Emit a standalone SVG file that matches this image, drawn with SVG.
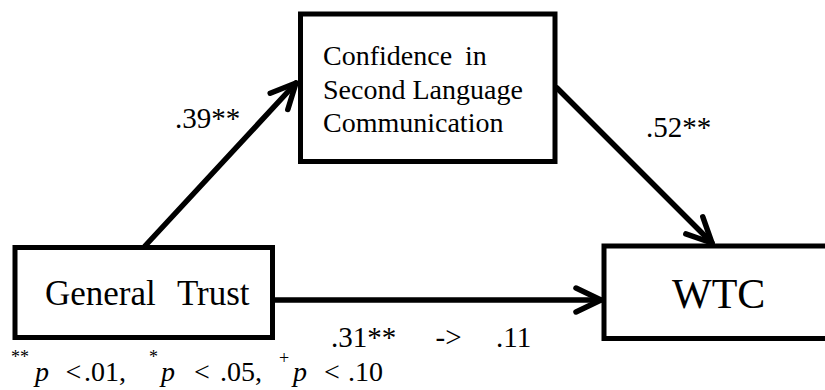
<svg xmlns="http://www.w3.org/2000/svg" width="825" height="390" viewBox="0 0 825 390">
  <style>
    .box { fill: #ffffff; stroke: #000000; stroke-width: 5; }
    .edge { fill: none; stroke: #000000; stroke-width: 5.5; stroke-linecap: round; }
    text { font-family: "Liberation Serif", "Times New Roman", serif; fill: #000000; }
    .node { font-size: 28px; }
    .lbl { font-size: 29px; }
    .fn { font-size: 28px; }
    .sup { font-size: 18px; }
    .it { font-style: italic; }
  </style>
  <defs>
    <marker id="arrow" markerUnits="userSpaceOnUse" viewBox="-32 -16 36 32" markerWidth="36" markerHeight="32" refX="0" refY="0" orient="auto">
      <path d="M -25,-12 L 0,0 L -25,12" fill="none" stroke="#000000" stroke-width="5.5" stroke-linecap="round" stroke-linejoin="round"/>
    </marker>
  </defs>
  <rect width="825" height="390" fill="#ffffff"/>

  <g id="connectors">
    <line class="edge" x1="145" y1="246" x2="296" y2="83" marker-end="url(#arrow)"/>
    <line class="edge" x1="557" y1="88" x2="712" y2="243" marker-end="url(#arrow)"/>
    <line class="edge" x1="275" y1="300" x2="601" y2="300" marker-end="url(#arrow)"/>
  </g>

  <g id="node-confidence">
    <rect class="box" x="300.5" y="14" width="254.5" height="147.5"/>
    <text class="node" x="323" y="65" word-spacing="6">Confidence in</text>
    <text class="node" x="323" y="98.5">Second Language</text>
    <text class="node" x="323" y="132">Communication</text>
  </g>

  <g id="node-general-trust">
    <rect class="box" x="15" y="247.5" width="257.5" height="90"/>
    <text font-size="35" x="45" y="305" word-spacing="13">General Trust</text>
  </g>

  <g id="node-wtc">
    <rect class="box" x="604" y="246" width="240" height="92.5"/>
    <text font-size="42" x="672" y="308">WTC</text>
  </g>

  <g id="labels">
    <text class="lbl" x="175" y="127.5">.39**</text>
    <text class="lbl" x="646" y="137">.52**</text>
    <text class="lbl" x="331" y="347">.31**</text>
    <text class="lbl" x="435.5" y="347">-&gt;</text>
    <text class="lbl" x="496" y="347">.11</text>
  </g>

  <g id="footnote">
    <text class="sup" x="11" y="363">**</text>
    <text class="fn it" x="35" y="381">p</text>
    <text class="fn" x="65.5" y="381">&lt;</text>
    <text class="fn" x="84" y="381">.01,</text>
    <text class="sup" x="149" y="363">*</text>
    <text class="fn it" x="161" y="381">p</text>
    <text class="fn" x="194" y="381">&lt;</text>
    <text class="fn" x="220" y="381">.05,</text>
    <text class="sup" x="279" y="364">+</text>
    <text class="fn it" x="293" y="381">p</text>
    <text class="fn" x="324" y="381">&lt;</text>
    <text class="fn" x="348" y="381">.10</text>
  </g>
</svg>
